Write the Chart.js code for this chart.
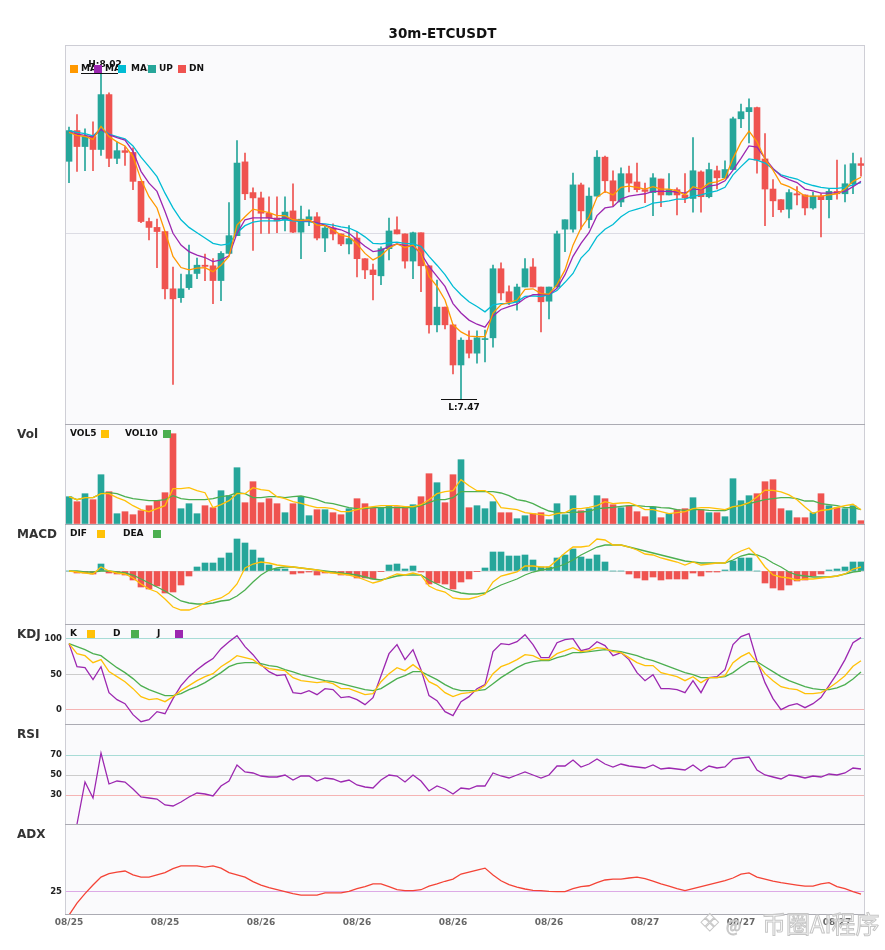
<!DOCTYPE html>
<html>
<head>
<meta charset="utf-8">
<script src="https://cdn.jsdelivr.net/npm/chart.js@4.4.1/dist/chart.umd.min.js"></script>
<style>
  html, body { margin: 0; padding: 0; background: #fff; overflow: hidden; }
  canvas { position: absolute; left: 0; }
  .wm { position: absolute; line-height: 24px; color: rgba(255,255,255,0.55); -webkit-text-stroke: 1px #c6c6c6; font-family: "Noto Sans CJK SC", sans-serif; }
</style>
</head>
<body>
<canvas id="mainChart" width="885" height="424" style="top:0px"></canvas>
<canvas id="volChart" width="885" height="100" style="top:424px"></canvas>
<canvas id="macdChart" width="885" height="100" style="top:524px"></canvas>
<canvas id="kdjChart" width="885" height="100" style="top:624px"></canvas>
<canvas id="rsiChart" width="885" height="100" style="top:724px"></canvas>
<canvas id="adxChart" width="885" height="126" style="top:824px"></canvas>
<div class="wm" style="left:699px;top:911px;font-size:24px;font-family:'DejaVu Sans'">❖</div>
<div class="wm" style="left:726px;top:913px;font-size:16px;">@</div>
<div class="wm" style="left:762px;top:911px;font-size:24px;">币圈AI程序</div>
<script>
// 30m candles, 100 bars
const tickLabels = ['08/25', '08/25', '08/26', '08/26', '08/26', '08/26', '08/27', '08/27', '08/27'];
const tickEvery = 12;

const opens = [7.873, 7.925, 7.898, 7.915, 7.893, 7.986, 7.878, 7.891, 7.888, 7.839,
  7.771, 7.761, 7.754, 7.657, 7.642, 7.659, 7.683, 7.697, 7.696, 7.671,
  7.717, 7.747, 7.872, 7.820, 7.811, 7.785, 7.777, 7.774, 7.789, 7.753,
  7.774, 7.779, 7.743, 7.760, 7.750, 7.733, 7.743, 7.708, 7.689, 7.679,
  7.725, 7.757, 7.750, 7.704, 7.752, 7.696, 7.596, 7.626, 7.596, 7.528,
  7.570, 7.548, 7.571, 7.574, 7.691, 7.652, 7.635, 7.660, 7.694, 7.660,
  7.636, 7.660, 7.758, 7.758, 7.833, 7.774, 7.814, 7.880, 7.840, 7.804,
  7.852, 7.838, 7.825, 7.820, 7.843, 7.816, 7.825, 7.816, 7.810, 7.855,
  7.813, 7.857, 7.845, 7.859, 7.945, 7.957, 7.964, 7.877, 7.826, 7.808,
  7.792, 7.818, 7.816, 7.794, 7.814, 7.808, 7.822, 7.818, 7.835, 7.869];
const highs = [7.931, 7.952, 7.928, 7.940, 8.023, 7.989, 7.906, 7.898, 7.896, 7.839,
  7.777, 7.775, 7.754, 7.694, 7.682, 7.731, 7.709, 7.716, 7.708, 7.720,
  7.803, 7.908, 7.887, 7.828, 7.821, 7.813, 7.813, 7.813, 7.835, 7.797,
  7.791, 7.786, 7.765, 7.767, 7.750, 7.764, 7.753, 7.708, 7.699, 7.728,
  7.777, 7.779, 7.750, 7.753, 7.752, 7.696, 7.672, 7.626, 7.596, 7.574,
  7.586, 7.586, 7.587, 7.697, 7.701, 7.662, 7.665, 7.708, 7.708, 7.660,
  7.660, 7.755, 7.774, 7.853, 7.836, 7.828, 7.891, 7.882, 7.857, 7.862,
  7.865, 7.870, 7.836, 7.852, 7.843, 7.852, 7.828, 7.852, 7.913, 7.857,
  7.870, 7.865, 7.874, 7.948, 7.970, 7.979, 7.965, 7.920, 7.842, 7.808,
  7.825, 7.830, 7.816, 7.821, 7.818, 7.826, 7.875, 7.867, 7.887, 7.879];
const lows = [7.837, 7.856, 7.857, 7.857, 7.883, 7.864, 7.869, 7.866, 7.825, 7.769,
  7.740, 7.693, 7.640, 7.495, 7.634, 7.656, 7.674, 7.671, 7.632, 7.637,
  7.717, 7.747, 7.808, 7.722, 7.751, 7.751, 7.752, 7.755, 7.752, 7.708,
  7.764, 7.740, 7.720, 7.740, 7.730, 7.716, 7.677, 7.674, 7.638, 7.664,
  7.706, 7.750, 7.692, 7.674, 7.652, 7.582, 7.584, 7.589, 7.513, 7.471,
  7.540, 7.531, 7.533, 7.558, 7.638, 7.630, 7.621, 7.660, 7.660, 7.584,
  7.606, 7.660, 7.720, 7.753, 7.758, 7.760, 7.814, 7.820, 7.797, 7.796,
  7.821, 7.821, 7.803, 7.781, 7.796, 7.816, 7.782, 7.803, 7.787, 7.787,
  7.811, 7.826, 7.845, 7.859, 7.930, 7.904, 7.853, 7.764, 7.779, 7.787,
  7.777, 7.799, 7.782, 7.792, 7.745, 7.777, 7.809, 7.804, 7.818, 7.848];
const closes = [7.925, 7.898, 7.915, 7.893, 7.986, 7.878, 7.891, 7.888, 7.839, 7.771,
  7.761, 7.754, 7.657, 7.640, 7.657, 7.681, 7.697, 7.695, 7.671, 7.717,
  7.747, 7.870, 7.818, 7.811, 7.785, 7.777, 7.772, 7.787, 7.753, 7.775,
  7.779, 7.743, 7.760, 7.750, 7.733, 7.742, 7.708, 7.689, 7.681, 7.725,
  7.755, 7.750, 7.704, 7.752, 7.696, 7.596, 7.626, 7.596, 7.528, 7.570,
  7.548, 7.574, 7.572, 7.691, 7.650, 7.635, 7.660, 7.691, 7.660, 7.635,
  7.660, 7.750, 7.774, 7.833, 7.789, 7.814, 7.880, 7.840, 7.806, 7.852,
  7.836, 7.825, 7.822, 7.845, 7.816, 7.825, 7.816, 7.811, 7.857, 7.813,
  7.859, 7.845, 7.859, 7.945, 7.957, 7.964, 7.875, 7.826, 7.806, 7.791,
  7.820, 7.816, 7.794, 7.814, 7.808, 7.822, 7.818, 7.835, 7.869, 7.866];

const ma5 = [7.922, 7.917, 7.915, 7.910, 7.932, 7.915, 7.906, 7.899, 7.881, 7.842,
  7.813, 7.794, 7.754, 7.712, 7.693, 7.689, 7.692, 7.693, 7.686, 7.697,
  7.712, 7.765, 7.779, 7.792, 7.789, 7.786, 7.781, 7.781, 7.774, 7.773,
  7.774, 7.765, 7.764, 7.757, 7.748, 7.745, 7.733, 7.717, 7.706, 7.713,
  7.726, 7.733, 7.727, 7.731, 7.717, 7.678, 7.661, 7.638, 7.596, 7.584,
  7.577, 7.576, 7.576, 7.616, 7.630, 7.634, 7.638, 7.656, 7.657, 7.649,
  7.648, 7.664, 7.689, 7.731, 7.760, 7.779, 7.812, 7.822, 7.816, 7.829,
  7.831, 7.829, 7.826, 7.830, 7.826, 7.826, 7.823, 7.816, 7.830, 7.826,
  7.836, 7.838, 7.844, 7.878, 7.905, 7.924, 7.906, 7.877, 7.858, 7.835,
  7.830, 7.823, 7.814, 7.814, 7.814, 7.816, 7.818, 7.826, 7.839, 7.846];
const ma10 = [7.923, 7.919, 7.917, 7.914, 7.927, 7.918, 7.913, 7.909, 7.890, 7.856,
  7.836, 7.822, 7.788, 7.751, 7.731, 7.720, 7.714, 7.710, 7.703, 7.706,
  7.713, 7.751, 7.774, 7.777, 7.777, 7.777, 7.775, 7.777, 7.774, 7.772,
  7.772, 7.769, 7.765, 7.760, 7.757, 7.751, 7.740, 7.729, 7.720, 7.722,
  7.729, 7.733, 7.730, 7.729, 7.717, 7.695, 7.678, 7.661, 7.632, 7.616,
  7.604, 7.597, 7.592, 7.611, 7.622, 7.627, 7.631, 7.641, 7.647, 7.647,
  7.647, 7.658, 7.681, 7.712, 7.734, 7.752, 7.781, 7.794, 7.796, 7.809,
  7.814, 7.816, 7.818, 7.822, 7.822, 7.822, 7.821, 7.819, 7.826, 7.825,
  7.831, 7.833, 7.840, 7.858, 7.878, 7.899, 7.897, 7.878, 7.861, 7.848,
  7.842, 7.837, 7.826, 7.823, 7.819, 7.819, 7.820, 7.822, 7.830, 7.839];
const ma20 = [7.925, 7.922, 7.920, 7.916, 7.929, 7.919, 7.915, 7.911, 7.899, 7.880,
  7.864, 7.847, 7.819, 7.794, 7.774, 7.761, 7.752, 7.743, 7.734, 7.731,
  7.733, 7.752, 7.764, 7.770, 7.772, 7.772, 7.772, 7.774, 7.772, 7.771,
  7.771, 7.768, 7.767, 7.765, 7.762, 7.760, 7.754, 7.745, 7.734, 7.733,
  7.735, 7.736, 7.734, 7.733, 7.729, 7.712, 7.697, 7.681, 7.661, 7.647,
  7.635, 7.627, 7.618, 7.630, 7.632, 7.632, 7.635, 7.644, 7.645, 7.644,
  7.647, 7.654, 7.668, 7.683, 7.709, 7.723, 7.745, 7.758, 7.766, 7.779,
  7.788, 7.792, 7.796, 7.802, 7.804, 7.806, 7.809, 7.809, 7.814, 7.816,
  7.820, 7.823, 7.829, 7.850, 7.864, 7.877, 7.875, 7.870, 7.860, 7.850,
  7.846, 7.843, 7.836, 7.832, 7.829, 7.827, 7.827, 7.829, 7.833, 7.837];

// volume (K)
const volumes = [27.3, 22.3, 30.3, 24.3, 49.3, 32.3, 10.3, 12.3, 9.3, 13.3,
  18.3, 23.3, 31.3, 90.3, 15.3, 20.3, 10.3, 18.3, 16.3, 33.3,
  28.3, 56.3, 21.3, 42.3, 21.3, 25.3, 20.3, 11.3, 20.3, 27.3,
  8.3, 14.3, 14.3, 11.3, 9.3, 15.3, 25.3, 20.3, 16.3, 16.3,
  18.3, 17.3, 16.3, 19.3, 27.3, 50.3, 41.3, 21.3, 49.3, 64.3,
  16.3, 18.3, 15.3, 22.3, 11.3, 11.3, 5.3, 8.3, 10.3, 11.3,
  4.3, 20.3, 9.3, 28.3, 13.3, 15.3, 28.3, 25.3, 19.3, 16.3,
  18.3, 12.3, 7.3, 17.0, 6.3, 10.3, 14.3, 15.3, 26.3, 14.3,
  11.3, 11.3, 7.3, 45.3, 23.3, 28.3, 30.3, 42.3, 44.3, 15.3,
  13.3, 6.3, 6.3, 11.3, 30.3, 18.3, 16.3, 15.3, 18.3, 3.3];
const vol5 = [27.3, 24.3, 26.3, 26.3, 30.3, 30.3, 26.3, 23.3, 18.3, 14.3,
  12.3, 15.3, 18.3, 35.3, 35.3, 36.3, 33.3, 31.3, 16.3, 19.3,
  23.3, 30.3, 30.3, 36.3, 34.3, 33.3, 27.3, 25.3, 22.3, 20.7,
  18.3, 16.3, 16.3, 15.3, 12.3, 12.3, 14.3, 16.3, 17.3, 18.3,
  18.3, 18.3, 17.3, 17.3, 19.3, 24.3, 30.3, 32.3, 33.3, 44.3,
  38.3, 33.3, 33.3, 28.3, 16.3, 15.3, 14.3, 11.3, 10.3, 9.3,
  8.3, 10.3, 11.3, 15.3, 15.3, 16.7, 18.3, 22.3, 20.3, 21.0,
  21.3, 18.3, 14.3, 14.3, 12.3, 10.3, 11.3, 12.3, 15.3, 16.3,
  16.3, 15.3, 14.3, 17.3, 18.3, 21.3, 26.9, 33.9, 33.7, 32.1,
  29.1, 24.3, 17.1, 10.5, 13.5, 14.5, 16.5, 18.3, 19.7, 14.3];
const vol10 = [27.3, 24.3, 26.3, 26.3, 30.3, 31.3, 30.3, 27.3, 25.3, 24.3,
  23.3, 23.3, 24.3, 28.3, 25.3, 24.3, 24.3, 24.3, 25.3, 27.3,
  28.3, 31.3, 30.3, 26.3, 26.3, 27.3, 27.3, 26.3, 27.3, 28.0,
  26.3, 24.3, 21.3, 20.3, 18.3, 16.3, 15.3, 15.3, 16.3, 16.3,
  16.3, 16.3, 16.3, 16.3, 18.3, 21.3, 24.3, 24.3, 26.3, 32.3,
  32.3, 32.3, 32.3, 32.3, 31.0, 28.3, 24.3, 23.0, 20.3, 16.3,
  13.0, 11.7, 11.3, 11.7, 12.0, 12.7, 15.3, 16.0, 16.7, 17.7,
  18.3, 18.3, 17.7, 17.3, 16.3, 16.0, 14.3, 13.7, 14.3, 14.3,
  13.7, 13.3, 13.3, 16.3, 19.3, 20.3, 22.3, 24.3, 25.3, 26.3,
  26.3, 25.3, 23.0, 23.0, 20.3, 19.3, 18.3, 16.3, 16.3, 14.3];

const dif = [0, -0.001, -0.002, -0.003, 0.004, 0, -0.002, -0.003, -0.007, -0.013,
  -0.018, -0.021, -0.028, -0.036, -0.039, -0.039, -0.036, -0.032, -0.029, -0.027,
  -0.022, -0.013, 0.003, 0.007, 0.009, 0.008, 0.006, 0.005, 0.004, 0.003,
  0.002, 0.001, -0.001, -0.002, -0.003, -0.004, -0.006, -0.009, -0.012, -0.010,
  -0.006, -0.003, -0.004, -0.002, -0.004, -0.015, -0.019, -0.021, -0.027, -0.028,
  -0.028, -0.026, -0.023, -0.011, -0.005, -0.003, -0.001, 0.005, 0.005, 0.004,
  0.004, 0.011, 0.018, 0.024, 0.024, 0.025, 0.032, 0.031, 0.026, 0.026,
  0.024, 0.021, 0.017, 0.016, 0.013, 0.011, 0.009, 0.006, 0.009, 0.006,
  0.007, 0.008, 0.008, 0.016, 0.020, 0.023, 0.015, 0.004, -0.004, -0.006,
  -0.007, -0.009, -0.008, -0.008, -0.007, -0.006, -0.005, -0.003, 0.002, 0.004];
const dea = [0, 0, -0.001, -0.001, 0, 0, -0.001, -0.002, -0.004, -0.008,
  -0.012, -0.016, -0.020, -0.025, -0.030, -0.032, -0.033, -0.033, -0.032, -0.030,
  -0.029, -0.025, -0.019, -0.011, -0.004, 0.001, 0.003, 0.004, 0.004, 0.003,
  0.002, 0.001, 0, -0.001, -0.002, -0.003, -0.004, -0.006, -0.008, -0.009,
  -0.007, -0.005, -0.004, -0.004, -0.004, -0.009, -0.013, -0.017, -0.020, -0.022,
  -0.023, -0.023, -0.022, -0.018, -0.014, -0.011, -0.008, -0.004, -0.001, 0.001,
  0.002, 0.004, 0.007, 0.011, 0.016, 0.020, 0.024, 0.026, 0.026, 0.026,
  0.024, 0.022, 0.020, 0.018, 0.016, 0.014, 0.012, 0.010, 0.009, 0.008,
  0.008, 0.008, 0.008, 0.011, 0.015, 0.017, 0.016, 0.013, 0.008, 0.004,
  -0.001, -0.004, -0.005, -0.006, -0.006, -0.006, -0.005, -0.003, -0.001, 0];
const macdHist = [0, -0.002, -0.002, -0.003, 0.007, -0.002, -0.003, -0.004, -0.009, -0.016,
  -0.018, -0.015, -0.022, -0.021, -0.014, -0.005, 0.004, 0.008, 0.008, 0.013,
  0.018, 0.032, 0.028, 0.021, 0.013, 0.006, 0.002, 0.002, -0.003, -0.002,
  -0.001, -0.004, -0.002, -0.002, -0.004, -0.004, -0.007, -0.007, -0.008, -0.0007,
  0.006, 0.007, 0.002, 0.005, -0.001, -0.013, -0.012, -0.013, -0.018, -0.011,
  -0.008, -0.0007, 0.003, 0.019, 0.019, 0.015, 0.015, 0.016, 0.011, 0.004,
  0.004, 0.013, 0.016, 0.022, 0.014, 0.012, 0.016, 0.009, 0, 0,
  -0.003, -0.007, -0.009, -0.006, -0.009, -0.008, -0.008, -0.008, -0.002, -0.005,
  -0.001, -0.001, 0.001, 0.010, 0.013, 0.013, 0, -0.012, -0.017, -0.019,
  -0.014, -0.010, -0.009, -0.005, -0.003, 0.001, 0.002, 0.004, 0.009, 0.009];

const kLine = [93.4, 79.2, 76.4, 66.5, 70.8, 53.8, 46.7, 39.6, 29.7, 18.4,
  14.2, 15.6, 11.3, 18.4, 26.9, 34, 41, 46.7, 50.9, 60.8,
  67.9, 76.4, 73.6, 70.8, 62.3, 58, 56.6, 55.2, 45.3, 41,
  39.6, 38.2, 39.6, 36.8, 29.7, 29.7, 25.5, 21.2, 22.6, 39.6,
  50.9, 59.4, 55.2, 63.7, 55.2, 39.6, 34, 24.1, 18.4, 22.6,
  24.1, 26.9, 34, 50.9, 60.8, 65.1, 70.8, 77.8, 76.4, 70.8,
  70.8, 79.2, 83.5, 87.7, 82.1, 83.5, 87.7, 86.3, 82.1, 80.7,
  73.6, 66.5, 62.3, 62.3, 52.4, 49.5, 46.7, 41, 46.7, 38.2,
  45.3, 45.3, 48.1, 66.5, 75, 80.7, 66.5, 50.9, 41, 32.5,
  29.7, 28.3, 22.6, 22.6, 24.1, 30.7, 38.7, 48.1, 61.3, 69.3];
const dLine = [93.4, 89.2, 84.9, 79.2, 76.4, 67.9, 59.4, 52.4, 43.9, 34,
  28.3, 24.1, 19.8, 19.8, 22.6, 28.3, 32.5, 38.2, 45.3, 52.4,
  60.8, 65.1, 66.5, 66.5, 65.1, 62.3, 60.8, 56.6, 53.3, 49.5,
  46.7, 43.9, 41, 39.6, 36.8, 34, 31.1, 28.3, 26.9, 29.7,
  36.8, 43.9, 48.1, 53.8, 53.8, 48.1, 42.5, 35.4, 29.7, 26.9,
  26.9, 26.9, 28.3, 36.8, 45.3, 52.4, 59.4, 65.1, 67.9, 69.3,
  69.3, 73.6, 76.4, 80.7, 80.7, 82.1, 83.5, 84.9, 83.5, 82.1,
  79.2, 76.4, 72.2, 69.3, 65.1, 60.8, 56.6, 52.4, 49.5, 45.3,
  45.3, 45.3, 46.7, 52.4, 60.8, 67.9, 67.9, 60.8, 53.8, 46.7,
  41, 36.8, 32.5, 29.7, 28.3, 28.3, 30.7, 35.4, 43.4, 53.3];
const jLine = [93.4, 60.8, 59.4, 42.5, 60.8, 24.1, 14.2, 8.5, -7.1, -17,
  -14.2, -2.8, -5.7, 15.6, 34, 46.7, 56.6, 65.1, 72.2, 86.3,
  96.2, 104.7, 89.2, 77.8, 63.7, 53.8, 48.1, 49.5, 24.1, 22.6,
  26.9, 21.2, 29.7, 28.3, 17, 18.4, 14.2, 7.1, 17, 48.1,
  79.2, 92, 70.8, 84.9, 56.6, 19.8, 12.7, -2.8, -8.5, 11.3,
  18.4, 29.7, 35.4, 82.1, 93.4, 92, 96.2, 106.1, 92, 73.6,
  73.6, 94.8, 99.1, 100.5, 83.5, 86.3, 96.2, 90.6, 76.4, 80.7,
  70.8, 52.4, 41, 49.5, 29.7, 29.7, 28.3, 24.1, 41, 24.1,
  45.3, 46.7, 56.6, 92, 103.3, 107.5, 69.3, 38.2, 15.6, 0,
  5.7, 8.5, 2.8, 8.5, 17, 34, 50.9, 70.8, 94.8, 101.9];

const rsi = [null, 1, 43, 27, 72, 41, 44, 43, 36, 28,
  27, 26, 20, 19, 23, 28, 32, 31, 29, 39,
  44, 60, 53, 52, 49, 48, 48, 50, 45, 49,
  49, 44, 47, 46, 43, 45, 40, 38, 37, 45,
  50, 49, 43, 50, 44, 34, 39, 36, 31, 37,
  36, 39, 39, 52, 49, 47, 50, 53, 50, 47,
  50, 59, 59, 65, 58, 61, 66, 61, 58, 61,
  59, 58, 57, 60, 56, 57, 56, 55, 60, 54,
  59, 57, 58, 66, 67, 68, 55, 50, 48, 46,
  50, 49, 47, 49, 48, 51, 50, 52, 57, 56];

const adx = [12.0, 18.7, 23.9, 28.7, 33.1, 35.0, 35.9, 36.5, 34.4, 33.1,
  33.1, 34.3, 35.6, 37.8, 39.3, 39.3, 39.3, 38.7, 39.3, 38.1,
  35.6, 34.4, 33.1, 30.6, 28.7, 27.2, 26.1, 25.0, 23.9, 23.1,
  23.1, 23.1, 24.3, 24.4, 24.4, 25.2, 26.7, 27.8, 29.4, 29.4,
  27.8, 26.1, 25.6, 25.6, 26.1, 28.1, 29.3, 30.8, 32.0, 34.8,
  35.9, 37.0, 38.1, 34.3, 31.1, 28.9, 27.6, 26.5, 25.7, 25.6,
  25.2, 25.0, 25.0, 26.7, 27.8, 28.3, 30.0, 31.5, 32.0, 32.0,
  32.6, 33.1, 32.2, 30.9, 29.3, 28.1, 26.7, 25.6, 26.7, 27.8,
  28.9, 30.0, 31.1, 32.6, 34.8, 35.4, 33.1, 32.0, 30.9, 30.0,
  29.3, 28.7, 28.1, 28.1, 29.4, 30.0, 27.8, 26.7, 25.0, 23.7];

const UP = '#26A69A';
const DN = '#EF5350';
const labels = closes.map((_, i) => i);
const candleColors = closes.map((c, i) => (c >= opens[i] ? UP : DN));
const histColors = macdHist.map(v => (v >= 0 ? UP : DN));

Chart.defaults.font.family = '"DejaVu Sans", sans-serif';
Chart.defaults.animation = false;
Chart.defaults.events = [];

// panel background, frame, name, legend and chart title
const panelDeco = {
  id: 'panelDeco',
  beforeDraw(chart, args, opts) {
    const { ctx, chartArea: a } = chart;
    ctx.save();
    ctx.fillStyle = '#fafafc';
    ctx.fillRect(a.left, a.top, a.right - a.left, a.bottom - a.top);
    ctx.restore();
  },
  afterDraw(chart, args, opts) {
    const { ctx, chartArea: a } = chart;
    ctx.save();
    ctx.lineWidth = 1;
    ctx.strokeStyle = '#cfcfd6';
    ctx.beginPath();
    ctx.moveTo(a.left + 0.5, a.top); ctx.lineTo(a.left + 0.5, a.bottom);
    ctx.moveTo(a.right - 0.5, a.top); ctx.lineTo(a.right - 0.5, a.bottom);
    ctx.stroke();
    ctx.strokeStyle = opts.topColor || '#ababb3';
    ctx.beginPath();
    ctx.moveTo(a.left, a.top + 0.5); ctx.lineTo(a.right, a.top + 0.5);
    if (opts.bottomLine) { ctx.moveTo(a.left, a.bottom - 0.5); ctx.lineTo(a.right, a.bottom - 0.5); }
    ctx.stroke();

    ctx.textBaseline = 'middle';
    ctx.textAlign = 'left';
    if (opts.title) {
      ctx.font = 'bold 13.5px "DejaVu Sans"';
      ctx.fillStyle = '#111';
      ctx.textAlign = 'center';
      ctx.fillText(opts.title, chart.width / 2, 34);
      ctx.textAlign = 'left';
    }
    if (opts.name) {
      ctx.font = 'bold 12px "DejaVu Sans"';
      ctx.fillStyle = '#333';
      ctx.fillText(opts.name, 17, a.top + 11);
    }
    const ly = a.top + (opts.legendY || 10);
    ctx.font = 'bold 9px "DejaVu Sans"';
    (opts.legend || []).forEach(it => {
      ctx.fillStyle = it.color;
      ctx.fillRect(it.sx, ly - 4, 8, 8);
      ctx.save();
      if (it.clip) { ctx.beginPath(); ctx.rect(it.tx, ly - 8, it.clip - it.tx, 16); ctx.clip(); }
      ctx.fillStyle = '#111';
      ctx.fillText(it.text, it.tx, ly);
      ctx.restore();
    });
    ctx.restore();
  }
};

// H / L markers on the price panel
const extremes = {
  id: 'extremes',
  afterDatasetsDraw(chart) {
    const { ctx, scales: { x, y } } = chart;
    const hi = Math.max(...highs), lo = Math.min(...lows);
    const hx = x.getPixelForValue(highs.indexOf(hi)), hy = y.getPixelForValue(hi);
    const lx = x.getPixelForValue(lows.indexOf(lo)), lyy = y.getPixelForValue(lo);
    ctx.save();
    ctx.strokeStyle = '#111';
    ctx.lineWidth = 1;
    ctx.beginPath();
    ctx.moveTo(hx - 20, Math.round(hy) + 0.5); ctx.lineTo(hx + 17, Math.round(hy) + 0.5);
    ctx.moveTo(lx - 20, Math.round(lyy) + 0.5); ctx.lineTo(lx + 16, Math.round(lyy) + 0.5);
    ctx.stroke();
    ctx.font = 'bold 9px "DejaVu Sans"';
    ctx.fillStyle = '#111';
    ctx.textAlign = 'center';
    ctx.textBaseline = 'middle';
    ctx.fillText('H:' + hi.toFixed(2), hx + 4, hy - 8);
    ctx.fillText('L:' + lo.toFixed(2), lx + 3, lyy + 9);
    ctx.restore();
  }
};

function xAxis(show) {
  return {
    display: show,
    offset: true,
    afterFit(s) { if (show) s.height = 35; },
    grid: { display: false, drawTicks: false },
    border: { display: false },
    ticks: {
      autoSkip: false, maxRotation: 0, padding: 2, color: '#666',
      font: { size: 9, weight: 'bold' },
      callback: (v, i) => (i % tickEvery === 0 ? tickLabels[i / tickEvery] : '')
    }
  };
}

function yAxis(min, max, ticks, gridColors, showLabels) {
  return {
    position: 'left', min, max,
    afterFit(s) { s.width = 65; s.paddingTop = 0; s.paddingBottom = 0; },
    afterBuildTicks(s) { s.ticks = ticks.map(v => ({ value: v })); },
    grid: {
      drawTicks: false, lineWidth: 1,
      color: c => gridColors[ticks.indexOf(c.tick.value)] || 'rgba(0,0,0,0)'
    },
    border: { display: false },
    ticks: { display: showLabels, padding: 3, color: '#222', font: { size: 8.5, weight: 'bold' } }
  };
}

function line(label, data, color) {
  return { type: 'line', label, data, borderColor: color, backgroundColor: color,
    borderWidth: 1.3, pointRadius: 0, tension: 0, order: 0 };
}

function panel(id, datasets, y, deco, opts = {}) {
  return new Chart(document.getElementById(id), {
    type: 'bar',
    data: { labels, datasets },
    options: {
      responsive: false,
      layout: { padding: { left: 0, right: 20, top: opts.top || 0, bottom: 0 } },
      scales: { x: xAxis(!!opts.showX), y },
      plugins: {
        legend: { display: false },
        tooltip: { enabled: false },
        title: { display: false },
        panelDeco: deco
      }
    },
    plugins: [panelDeco].concat(opts.extra || [])
  });
}

// price panel
panel('mainChart', [
  line('MA5', ma5, '#FF9800'),
  line('MA10', ma10, '#9C27B0'),
  line('MA20', ma20, '#00BCD4'),
  { label: 'body', data: opens.map((o, i) => [o, closes[i]]), backgroundColor: candleColors,
    barThickness: 6, grouped: false, minBarLength: 1, order: 1 },
  { label: 'wick', data: lows.map((l, i) => [l, highs[i]]), backgroundColor: candleColors,
    barThickness: 1, grouped: false, order: 2 }
], yAxis(7.428, 8.070, [7.75], ['#dcdce4'], false), {
  title: '30m-ETCUSDT', topColor: '#cdcdd5', legendY: 24,
  legend: [
    { text: 'MA5', color: '#FF9800', sx: 70, tx: 81, clip: 94 },
    { text: 'MA10', color: '#9C27B0', sx: 94, tx: 105, clip: 118 },
    { text: 'MA20', color: '#00BCD4', sx: 118, tx: 131, clip: 148 },
    { text: 'UP', color: UP, sx: 148, tx: 159 },
    { text: 'DN', color: DN, sx: 178, tx: 189 }
  ]
}, { top: 45, extra: [extremes] });

// volume panel
panel('volChart', [
  line('VOL5', vol5, '#FFC107'),
  line('VOL10', vol10, '#4CAF50'),
  { label: 'Vol', data: volumes, backgroundColor: candleColors, barThickness: 6, grouped: false, order: 1 }
], yAxis(0, 100, [0], [], false), {
  name: 'Vol',
  legend: [
    { text: 'VOL5', color: '#FFC107', sx: 101, tx: 70 },
    { text: 'VOL10', color: '#4CAF50', sx: 163, tx: 125 }
  ]
});

// MACD panel
panel('macdChart', [
  line('DIF', dif, '#FFC107'),
  line('DEA', dea, '#4CAF50'),
  { label: 'MACD', data: macdHist, backgroundColor: histColors, barThickness: 6, grouped: false, order: 1 }
], yAxis(-0.053, 0.047, [0], ['#dddddd'], false), {
  name: 'MACD',
  legend: [
    { text: 'DIF', color: '#FFC107', sx: 97, tx: 70 },
    { text: 'DEA', color: '#4CAF50', sx: 153, tx: 123 }
  ]
});

// KDJ panel
panel('kdjChart', [
  line('K', kLine, '#FFC107'),
  line('D', dLine, '#4CAF50'),
  line('J', jLine, '#9C27B0')
], yAxis(-20.3, 121.2, [0, 50, 100], ['#f5b4b4', '#cccccc', '#a8dcd6'], true), {
  name: 'KDJ',
  legend: [
    { text: 'K', color: '#FFC107', sx: 87, tx: 70 },
    { text: 'D', color: '#4CAF50', sx: 131, tx: 113 },
    { text: 'J', color: '#9C27B0', sx: 175, tx: 157 }
  ]
});

// RSI panel
panel('rsiChart', [
  line('RSI', rsi, '#9C27B0')
], yAxis(1, 101, [30, 50, 70], ['#f5b4b4', '#cccccc', '#a8dcd6'], true), { name: 'RSI' });

// ADX panel
panel('adxChart', [
  line('ADX', adx, '#F44336')
], yAxis(12.06, 62.6, [25], ['#dcaae6'], true), { name: 'ADX', bottomLine: true }, { showX: true });
</script>
</body>
</html>
